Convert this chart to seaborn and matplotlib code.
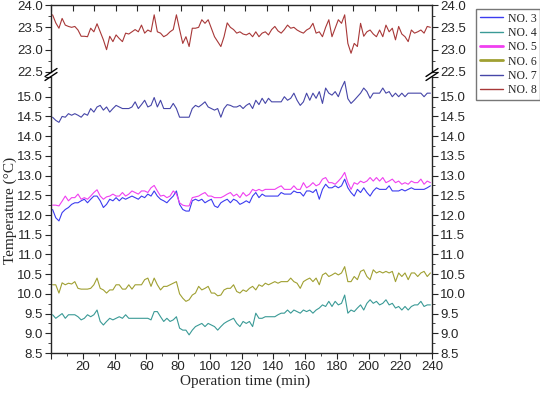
import numpy as np
import pandas as pd
import matplotlib
matplotlib.use("Agg")
import matplotlib.pyplot as plt
import seaborn as sns
from matplotlib.lines import Line2D
from matplotlib.ticker import MultipleLocator, FuncFormatter

# time axis (min), one reading every 2 min
minutes = np.arange(1, 240, 2)

no3 = [12.14, 11.93, 11.85, 12.06, 12.14, 12.19, 12.27, 12.31, 12.31, 12.36,
       12.40, 12.31, 12.40, 12.48, 12.48, 12.36, 12.19, 12.27, 12.40, 12.36,
       12.44, 12.36, 12.44, 12.40, 12.44, 12.48, 12.44, 12.40, 12.48, 12.44,
       12.53, 12.48, 12.61, 12.48, 12.40, 12.36, 12.31, 12.40, 12.48, 12.61,
       12.27, 12.14, 12.10, 12.10, 12.36, 12.40, 12.36, 12.40, 12.31, 12.36,
       12.40, 12.23, 12.19, 12.31, 12.36, 12.40, 12.31, 12.40, 12.36, 12.27,
       12.31, 12.36, 12.31, 12.48, 12.57, 12.44, 12.53, 12.48, 12.48, 12.48,
       12.48, 12.48, 12.57, 12.53, 12.53, 12.53, 12.61, 12.57, 12.57, 12.48,
       12.61, 12.61, 12.57, 12.65, 12.40, 12.65, 12.78, 12.69, 12.69, 12.74,
       12.69, 12.74, 12.91, 12.69, 12.57, 12.48, 12.65, 12.57, 12.69, 12.57,
       12.48, 12.61, 12.69, 12.65, 12.65, 12.65, 12.74, 12.61, 12.61, 12.61,
       12.65, 12.61, 12.65, 12.69, 12.65, 12.65, 12.65, 12.65, 12.69, 12.74]

no4 = [9.47, 9.38, 9.44, 9.50, 9.38, 9.47, 9.47, 9.47, 9.42, 9.34,
       9.38, 9.47, 9.42, 9.47, 9.59, 9.30, 9.21, 9.30, 9.38, 9.34,
       9.38, 9.42, 9.38, 9.47, 9.38, 9.38, 9.38, 9.38, 9.38, 9.38,
       9.38, 9.34, 9.55, 9.55, 9.42, 9.30, 9.38, 9.30, 9.34, 9.42,
       9.13, 9.08, 9.08, 8.96, 9.08, 9.17, 9.21, 9.25, 9.17, 9.25,
       9.21, 9.17, 9.08, 9.17, 9.25, 9.30, 9.34, 9.38, 9.25, 9.17,
       9.30, 9.25, 9.30, 9.17, 9.51, 9.38, 9.38, 9.42, 9.42, 9.42,
       9.42, 9.47, 9.51, 9.51, 9.59, 9.51, 9.59, 9.55, 9.51, 9.59,
       9.55, 9.59, 9.51, 9.59, 9.64, 9.72, 9.68, 9.81, 9.68, 9.81,
       9.72, 9.76, 9.97, 9.51, 9.59, 9.55, 9.64, 9.72, 9.59, 9.76,
       9.85, 9.76, 9.81, 9.72, 9.76, 9.85, 9.72, 9.76, 9.64, 9.68,
       9.59, 9.68, 9.59, 9.68, 9.72, 9.72, 9.81, 9.68, 9.72, 9.72]

no5 = [12.25, 12.25, 12.23, 12.35, 12.48, 12.36, 12.44, 12.44, 12.53, 12.40,
       12.44, 12.40, 12.48, 12.57, 12.64, 12.48, 12.40, 12.46, 12.48, 12.53,
       12.48, 12.48, 12.57, 12.48, 12.53, 12.61, 12.57, 12.53, 12.61, 12.61,
       12.57, 12.69, 12.75, 12.61, 12.48, 12.50, 12.44, 12.48, 12.61, 12.53,
       12.31, 12.25, 12.23, 12.23, 12.44, 12.46, 12.48, 12.53, 12.57, 12.48,
       12.48, 12.44, 12.44, 12.44, 12.48, 12.53, 12.57, 12.48, 12.53, 12.44,
       12.57, 12.48, 12.53, 12.65, 12.61, 12.65, 12.61, 12.65, 12.65, 12.65,
       12.65, 12.70, 12.74, 12.65, 12.65, 12.65, 12.74, 12.65, 12.65, 12.82,
       12.69, 12.74, 12.82, 12.74, 12.78, 12.91, 12.95, 12.82, 12.82, 12.78,
       12.86, 12.95, 13.08, 12.82, 12.65, 12.82, 12.78, 12.86, 12.82, 12.86,
       12.95, 12.86, 12.95, 12.86, 12.95, 12.82, 12.86, 12.91, 12.82, 12.86,
       12.78, 12.82, 12.78, 12.86, 12.82, 12.82, 12.91, 12.78, 12.86, 12.82]

no6 = [10.23, 10.23, 10.02, 10.28, 10.23, 10.27, 10.25, 10.31, 10.14, 10.12,
       10.12, 10.12, 10.14, 10.23, 10.40, 10.14, 10.10, 10.02, 10.10, 10.10,
       10.23, 10.23, 10.12, 10.12, 10.23, 10.12, 10.23, 10.23, 10.23, 10.36,
       10.40, 10.19, 10.40, 10.23, 10.10, 10.19, 10.19, 10.23, 10.27, 10.31,
       10.00, 9.89, 9.81, 9.85, 9.97, 10.02, 10.19, 10.10, 10.14, 10.19,
       10.02, 10.02, 9.95, 9.97, 10.10, 10.14, 10.14, 10.23, 10.06, 10.02,
       10.10, 10.06, 10.14, 10.19, 10.10, 10.23, 10.19, 10.27, 10.23, 10.27,
       10.31, 10.27, 10.31, 10.31, 10.31, 10.40, 10.31, 10.27, 10.14, 10.31,
       10.36, 10.40, 10.31, 10.40, 10.23, 10.48, 10.53, 10.44, 10.48, 10.53,
       10.48, 10.53, 10.69, 10.31, 10.31, 10.44, 10.36, 10.57, 10.61, 10.44,
       10.36, 10.61, 10.53, 10.57, 10.53, 10.57, 10.53, 10.57, 10.31, 10.53,
       10.44, 10.53, 10.36, 10.53, 10.53, 10.44, 10.53, 10.57, 10.44, 10.53]

no7 = [14.48, 14.40, 14.35, 14.50, 14.48, 14.57, 14.53, 14.57, 14.53, 14.48,
       14.57, 14.53, 14.70, 14.61, 14.74, 14.78, 14.66, 14.74, 14.61, 14.70,
       14.78, 14.74, 14.70, 14.70, 14.70, 14.74, 14.87, 14.70, 14.80, 14.91,
       14.74, 14.78, 14.98, 14.74, 14.91, 14.70, 14.70, 14.70, 14.83, 14.70,
       14.48, 14.48, 14.48, 14.48, 14.70, 14.78, 14.74, 14.80, 14.87, 14.74,
       14.70, 14.66, 14.70, 14.48, 14.70, 14.80, 14.78, 14.74, 14.74, 14.78,
       14.70, 14.78, 14.83, 14.70, 14.91, 14.80, 14.96, 14.83, 14.96, 14.87,
       14.87, 14.87, 14.87, 15.00, 14.91, 14.96, 15.09, 14.91, 14.78, 14.87,
       15.09, 14.91, 15.09, 14.96, 15.13, 14.83, 15.22, 15.09, 15.04, 15.13,
       15.00, 15.22, 15.39, 14.95, 14.83, 14.91, 15.00, 15.09, 15.22, 15.13,
       14.96, 15.09, 15.09, 15.09, 15.22, 15.09, 15.13, 15.00, 15.09, 15.00,
       15.09, 15.00, 15.09, 15.09, 15.09, 15.09, 15.09, 15.00, 15.09, 15.09]

no8 = [23.78, 23.60, 23.48, 23.70, 23.55, 23.52, 23.50, 23.52, 23.44, 23.30,
       23.30, 23.29, 23.48, 23.40, 23.58, 23.40, 23.22, 23.00, 23.30, 23.18,
       23.33, 23.25, 23.18, 23.37, 23.35, 23.40, 23.45, 23.40, 23.55, 23.37,
       23.44, 23.40, 23.78, 23.40, 23.37, 23.29, 23.33, 23.40, 23.45, 23.78,
       23.45, 23.14, 23.29, 23.07, 23.48, 23.48, 23.50, 23.67, 23.59, 23.67,
       23.48, 23.29, 23.18, 23.07, 23.29, 23.60, 23.50, 23.45, 23.37, 23.40,
       23.35, 23.33, 23.37, 23.29, 23.40, 23.29, 23.37, 23.40, 23.33, 23.45,
       23.52, 23.42, 23.37, 23.45, 23.55, 23.48, 23.50, 23.44, 23.40, 23.37,
       23.44, 23.48, 23.59, 23.37, 23.40, 23.29, 23.50, 23.67, 23.29, 23.48,
       23.67, 23.59, 23.78, 23.14, 22.92, 23.14, 23.07, 23.59, 23.30, 23.40,
       23.44, 23.35, 23.29, 23.44, 23.29, 23.55, 23.40, 23.48, 23.22, 23.52,
       23.35, 23.29, 23.18, 23.44, 23.37, 23.40, 23.44, 23.37, 23.52, 23.50]

names = ["NO. 3", "NO. 4", "NO. 5", "NO. 6", "NO. 7", "NO. 8"]
colors = ["#3c3cf0", "#3a9a96", "#f040f0", "#a0a032", "#4646a8", "#a83838"]

wide = pd.DataFrame(dict(zip(names, [no3, no4, no5, no6, no7, no8])))
wide["t"] = minutes
df = wide.melt(id_vars="t", var_name="probe", value_name="temp")
pal = dict(zip(names, colors))

sns.set_style("ticks")
plt.rcParams["font.family"] = ["Liberation Sans", "DejaVu Sans"]
plt.rcParams["axes.linewidth"] = 1.0

fig = plt.figure(figsize=(5.4, 3.94), dpi=100)
W, H = 540, 394
x0, x1 = 51, 432
ax_top = fig.add_axes([x0 / W, 1 - 72 / H, (x1 - x0) / W, 67 / H])
ax_bot = fig.add_axes([x0 / W, 1 - 353 / H, (x1 - x0) / W, 276 / H])

bot = df[df["probe"] != "NO. 8"]
sns.lineplot(data=bot, x="t", y="temp", hue="probe", palette=pal,
             linewidth=0.8, ax=ax_bot, legend=False)
sns.lineplot(data=df[df["probe"] == "NO. 8"], x="t", y="temp", hue="probe",
             palette=pal, linewidth=0.8, ax=ax_top, legend=False)

tsize = 9.5

# bottom panel
ax_bot.set_xlim(0, 240)
ax_bot.set_ylim(8.5, 15.5)
ax_bot.xaxis.set_major_locator(MultipleLocator(20))
ax_bot.xaxis.set_minor_locator(MultipleLocator(10))
ax_bot.yaxis.set_major_locator(MultipleLocator(0.5))
ax_bot.yaxis.set_minor_locator(MultipleLocator(0.25))
ax_bot.xaxis.set_major_formatter(FuncFormatter(lambda v, p: "" if v == 0 else f"{v:.0f}"))
ax_bot.yaxis.set_major_formatter(FuncFormatter(lambda v, p: "" if v > 15.2 else f"{v:.1f}"))
ax_bot.spines["top"].set_visible(False)
ax_bot.tick_params(axis="both", which="both", direction="out",
                   left=True, right=True, labelright=True, top=False,
                   labelsize=tsize, pad=2)
ax_bot.tick_params(which="major", length=4)
ax_bot.tick_params(which="minor", length=2.5)
ax_bot.set_xlabel("")
ax_bot.set_ylabel("")

# top panel
ax_top.set_xlim(0, 240)
ax_top.set_ylim(22.5, 24.0)
ax_top.yaxis.set_major_locator(MultipleLocator(0.5))
ax_top.yaxis.set_minor_locator(MultipleLocator(0.25))
ax_top.yaxis.set_major_formatter(FuncFormatter(lambda v, p: f"{v:.1f}"))
ax_top.set_xticks(np.arange(0, 240, 13.6))
ax_top.spines["bottom"].set_visible(False)
ax_top.tick_params(axis="x", which="both", bottom=False, labelbottom=False,
                   top=True, direction="in", length=4)
ax_top.tick_params(axis="y", which="both", direction="out",
                   left=True, right=True, labelright=True, labelsize=tsize, pad=2)
ax_top.tick_params(axis="y", which="major", length=4)
ax_top.tick_params(axis="y", which="minor", length=2.5)
ax_top.set_xlabel("")
ax_top.set_ylabel("")

# axis break marks on both sides
for xb in (x0, x1):
    for yb in (72.5, 76.5):
        fig.add_artist(Line2D([(xb - 6) / W, (xb + 6) / W],
                              [1 - (yb + 4) / H, 1 - (yb - 4) / H],
                              color="black", lw=1.0))

serif = ["Liberation Serif", "DejaVu Serif"]
fig.text(245 / W, 1 - 381 / H, "Operation time (min)", ha="center",
         va="center", fontsize=11, family=serif)
fig.text(10 / W, 1 - 210 / H, "Temperature (\u00b0C)", ha="center",
         va="center", rotation=90, fontsize=11, family=serif)

handles = []
for n, c in zip(names, colors):
    lw = 2.0 if n in ("NO. 5", "NO. 6") else 1.0
    handles.append(Line2D([], [], color=c, lw=lw, label=n))
leg = fig.legend(handles=handles, loc="upper left",
                 bbox_to_anchor=(476 / W, 1 - 9 / H),
                 frameon=True, fancybox=False, edgecolor="#555555",
                 prop={"family": serif, "size": 8.5},
                 handlelength=2.0, handletextpad=0.4, labelspacing=0.2,
                 borderpad=0.3, borderaxespad=0.0)
leg.get_frame().set_linewidth(1.0)

fig.savefig("out.png", dpi=100)
